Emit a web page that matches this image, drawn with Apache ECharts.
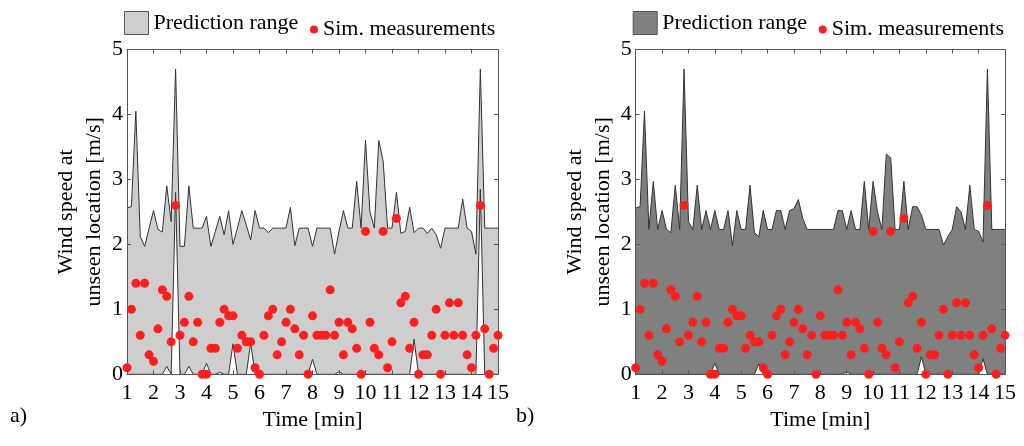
<!DOCTYPE html>
<html><head><meta charset="utf-8">
<script src="https://cdn.jsdelivr.net/npm/echarts@6/dist/echarts.min.js"></script>
<style>html,body{margin:0;padding:0;background:#fff}#c{width:1024px;height:446px}</style>
</head><body><div id="c"></div>
<script>
// sample times in seconds (10 s sampling, 1 min .. 15 min)
const timeSec = [60,70,80,90,100,110,120,130,140,150,160,170,180,190,200,210,220,230,240,250,
  260,270,280,290,300,310,320,330,340,350,360,370,380,390,400,410,420,430,440,450,
  460,470,480,490,500,510,520,530,540,550,560,570,580,590,600,610,620,630,640,650,
  660,670,680,690,700,710,720,730,740,750,760,770,780,790,800,810,820,830,840,850,
  860,870,880,890,900];

// simulated measurements (same in both panels)
const measured = [0.1,1.0,1.4,0.6,1.4,0.3,0.2,0.7,1.3,1.2,
  0.5,2.6,0.6,0.8,1.2,0.5,0.8,0,0,0.4,
  0.4,0.8,1.0,0.9,0.9,0.4,0.6,0.5,0.5,0.1,
  0,0.6,0.9,1.0,0.3,0.5,0.8,1.0,0.7,0.3,
  0.6,0,0.9,0.6,0.6,0.6,1.3,0.6,0.8,0.3,
  0.8,0.7,0.4,0,2.2,0.8,0.4,0.3,2.2,0.1,
  0.5,2.4,1.1,1.2,0.4,0.8,0,0.3,0.3,0.6,
  1.0,0,0.6,1.1,0.6,1.1,0.6,0.3,0.1,0.6,
  2.6,0.7,0,0.4,0.6];

// panel a) prediction range
const upperA = [2.56,2.58,4.05,2.12,1.97,2.25,2.52,2.23,2.19,2.90,
  2.35,4.70,1.97,1.97,2.90,2.25,2.25,2.25,2.43,1.97,
  2.20,2.43,2.15,2.52,2.00,2.25,2.52,2.30,2.07,2.52,
  2.25,2.25,2.18,2.25,2.25,2.25,2.25,2.57,1.98,2.25,
  2.25,2.25,1.97,2.25,2.25,2.25,2.25,1.85,2.20,2.52,
  2.25,2.25,2.97,2.25,3.60,2.50,2.25,3.60,3.28,2.25,
  2.25,2.80,2.17,2.20,2.57,2.18,2.25,2.25,2.17,2.25,
  2.15,1.94,2.25,2.25,2.25,2.25,2.70,2.25,2.20,1.85,
  4.70,2.25,2.25,2.25,2.25];
const lowerA = [0,0,0,0,0,0,0,0,0,0.12,
  0,2.8,0,0,0.12,0,0,0,0.17,0,
  0,0.03,0,0,0.47,0,0,0,0.48,0,
  0,0,0,0,0,0,0,0,0,0,
  0,0,0.23,0,0,0,0,0,0.04,0,
  0,0,0,0,0,0,0,0,0,0,
  0,0,0,0,0,0.54,0,0,0,0,
  0,0,0,0,0,0,0,0,0,0,
  2.85,0,0,0,0];

// panel b) prediction range
const upperB = [2.56,2.58,4.05,2.23,2.97,2.23,2.52,2.23,2.18,2.91,
  2.23,4.70,2.35,2.23,2.91,2.23,2.52,2.23,2.52,2.23,
  2.23,2.52,1.98,2.52,2.23,2.23,2.91,2.18,2.12,2.52,
  2.23,2.23,2.52,2.52,2.23,2.52,2.55,2.69,2.40,2.23,
  2.23,2.23,2.23,2.23,2.23,2.23,2.52,2.52,2.23,2.52,
  2.23,2.23,2.97,2.23,2.97,2.50,2.23,3.39,3.33,2.23,
  2.23,2.97,2.23,2.58,2.58,2.45,2.23,2.23,2.23,2.23,
  1.99,2.12,2.23,2.58,2.50,2.23,2.91,2.23,2.20,2.04,
  4.70,2.23,2.23,2.23,2.23];
const lowerB = [0,0,0,0,0,0,0,0,0,0,
  0,0,0,0,0,0,0,0,0.17,0,
  0,0,0,0,0,0,0,0,0.16,0,
  0,0,0,0,0,0,0,0,0,0,
  0,0,0,0,0,0,0,0,0.04,0,
  0,0,0,0,0,0,0,0,0,0,
  0,0,0,0,0,0.27,0,0,0,0,
  0,0,0,0,0,0,0,0,0,0.24,
  0,0,0,0,0];

const xTickLabels = ['1','2','3','4','5','6','7','8','9','10','11','12','13','14','15'];
const yTickLabels = ['0','1','2','3','4','5'];
const legendNames = ['Prediction range','Sim. measurements'];
const panelLabels = ['a)','b)'];

const FONT = '"Liberation Serif", "Times New Roman", serif';
const AX = '#555';
const fillA = '#cfcece', fillB = '#7f8080';
const pts = arr => timeSec.map((t, i) => [t, arr[i]]);

function xAx(grid, pos, labels) {
  return {type:'value', gridIndex:grid, position:pos, min:60, max:900, interval:60, z:3,
    axisLine:{show:true, onZero:false, lineStyle:{color:AX, width:1}},
    axisTick:{show:true, inside:true, length:4, lineStyle:{color:AX}},
    splitLine:{show:false},
    axisLabel:{show:labels, margin:8, fontFamily:FONT, fontSize:22, color:'#000',
      formatter: v => xTickLabels[Math.round(v/60) - 1]},
    name: labels ? 'Time [min]' : '', nameLocation:'middle', nameGap:35,
    nameTextStyle:{fontFamily:FONT, fontSize:22, color:'#000'}};
}
function yAx(grid, pos, labels) {
  return {type:'value', gridIndex:grid, position:pos, min:0, max:5, interval:1, z:3,
    axisLine:{show:true, onZero:false, lineStyle:{color:AX, width:1}},
    axisTick:{show:true, inside:true, length:4, lineStyle:{color:AX}},
    splitLine:{show:false},
    axisLabel:{show:labels, margin:4, fontFamily:FONT, fontSize:22, color:'#000',
      formatter: v => yTickLabels[Math.round(v)]},
    name: labels ? 'Wind speed at\nunseen location [m/s]' : '', nameLocation:'middle', nameGap:12, nameRotate:90,
    nameTextStyle:{fontFamily:FONT, fontSize:22, lineHeight:28, color:'#000'}};
}
function panelSeries(ax, fill, upper, lower, tag) {
  return [
    {type:'line', name:legendNames[0], xAxisIndex:ax, yAxisIndex:ax, data:pts(upper),
      symbol:'none', silent:true, z:2, itemStyle:{color:fill},
      lineStyle:{color:'#333', width:1}, areaStyle:{color:fill, opacity:1}},
    {type:'line', name:'lower' + tag, xAxisIndex:ax, yAxisIndex:ax, data:pts(lower),
      symbol:'none', silent:true, z:2, itemStyle:{color:'#fff'},
      lineStyle:{color:'#333', width:1}, areaStyle:{color:'#fff', opacity:1}},
    {type:'scatter', name:legendNames[1], xAxisIndex:ax, yAxisIndex:ax, data:pts(measured),
      symbol:'circle', symbolSize:9, z:4, itemStyle:{color:'#ff1f1f', opacity:1}}
  ];
}
function legends(dx, fill) {
  return [
    {left:124 + dx, top:11, padding:0, orient:'horizontal', itemWidth:24, itemHeight:23, selectedMode:false,
      icon:'rect', textStyle:{fontFamily:FONT, fontSize:22, color:'#000', padding:[3,0,0,0]},
      data:[{name:legendNames[0], itemStyle:{color:fill, borderColor:'#555', borderWidth:1}}]},
    {left:310 + dx, top:18.5, padding:0, itemWidth:8, itemHeight:8, selectedMode:false,
      icon:'circle', textStyle:{fontFamily:FONT, fontSize:22, color:'#000', padding:[3,0,0,0]},
      data:[{name:legendNames[1], itemStyle:{color:'#ff1f1f'}}]}
  ];
}

const chart = echarts.init(document.getElementById('c'), null, {renderer:'canvas'});
chart.setOption({
  animation:false,
  backgroundColor:'#fff',
  grid:[
    {left:127, top:49.5, width:371, height:324.8, containLabel:false},
    {left:635.7, top:49.5, width:369.3, height:324.8, containLabel:false}
  ],
  xAxis:[xAx(0,'bottom',true), xAx(0,'top',false), xAx(1,'bottom',true), xAx(1,'top',false)],
  yAxis:[yAx(0,'left',true), yAx(0,'right',false), yAx(1,'left',true), yAx(1,'right',false)],
  legend:[...legends(0, fillA), ...legends(508.7, fillB)],
  graphic:[
    {type:'text', left:10, top:405, style:{text:panelLabels[0], font:'22px "Liberation Serif"', fill:'#000'}},
    {type:'text', left:516, top:405, style:{text:panelLabels[1], font:'22px "Liberation Serif"', fill:'#000'}}
  ],
  series:[...panelSeries(0, fillA, upperA, lowerA, 'A'), ...panelSeries(2, fillB, upperB, lowerB, 'B')]
});
</script></body></html>
